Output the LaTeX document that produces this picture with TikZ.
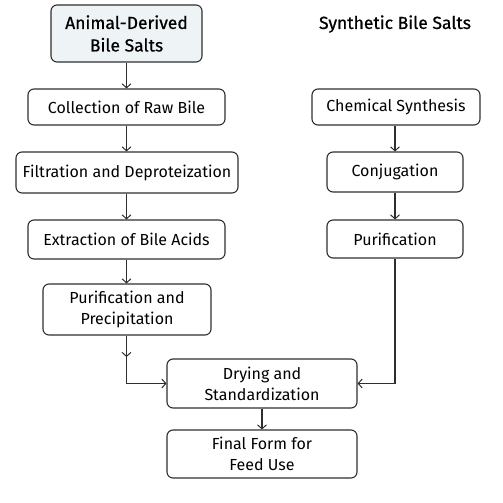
\documentclass[tikz,border=0pt]{standalone}
\usepackage{fontspec}
\setmainfont{Fira Sans}
\usetikzlibrary{arrows.meta}
\definecolor{ln}{HTML}{2E2E2E}
\definecolor{topfill}{HTML}{EEF4F6}
\begin{document}
\begin{tikzpicture}[x=1pt,y=1pt,
  box/.style={draw=ln,line width=1.1pt,rounded corners=6pt,align=center,
    inner sep=0pt,font=\fontsize{16}{21}\selectfont,text=black},
  head/.style={font=\fontsize{17.5}{22.5}\selectfont\addfontfeatures{FakeBold=0.7}},
  conn/.style={draw=ln,line width=1.1pt,-{Straight Barb[length=4pt,width=9pt,line width=1pt]}}]
\useasboundingbox (0,0) rectangle (503,-503);
\node[box,head,fill=topfill,minimum width=151pt,minimum height=57pt] (animal) at (126.5,-33.5) {Animal-Derived\\Bile Salts};
\node[box,minimum width=197pt,minimum height=36pt] (collect) at (126.5,-107) {Collection of Raw Bile};
\node[box,minimum width=222pt,minimum height=41pt] (filt) at (127,-172.5) {Filtration and Deproteization};
\node[box,minimum width=197pt,minimum height=39pt] (extr) at (126.5,-239.5) {Extraction of Bile Acids};
\node[box,minimum width=168pt,minimum height=51pt] (purp) at (127,-309.5) {Purification and\\Precipitation};
\node[box,minimum width=190pt,minimum height=49pt] (dry) at (262,-383.5) {Drying and\\Standardization};
\node[box,minimum width=190pt,minimum height=48pt] (final) at (262,-454) {Final Form for\\Feed Use};
\node[head,inner sep=0pt] (title) at (395,-24) {Synthetic Bile Salts};
\node[box,minimum width=168pt,minimum height=36pt] (chem) at (396,-107) {Chemical Synthesis};
\node[box,minimum width=136pt,minimum height=40pt] (conj) at (395,-172) {Conjugation};
\node[box,minimum width=136pt,minimum height=38pt] (purif) at (395,-239) {Purification};
\coordinate (mid) at (126.5,-357);
\draw[conn] (animal.south -| 126.5,0) -- (collect.north -| 126.5,0);
\draw[conn] (collect) -- (filt.north -| collect);
\draw[conn] (filt.south -| collect) -- (extr);
\draw[conn] (extr) -- (purp.north -| extr);
\draw[conn] (purp.south -| extr) -- (mid);
\draw[conn] (mid) |- (dry.west);
\draw[conn] (dry) -- (final);
\draw[conn] (chem.south -| conj) -- (conj);
\draw[conn] (conj) -- (purif);
\draw[conn] (purif) |- (dry.east);
\end{tikzpicture}
\end{document}
